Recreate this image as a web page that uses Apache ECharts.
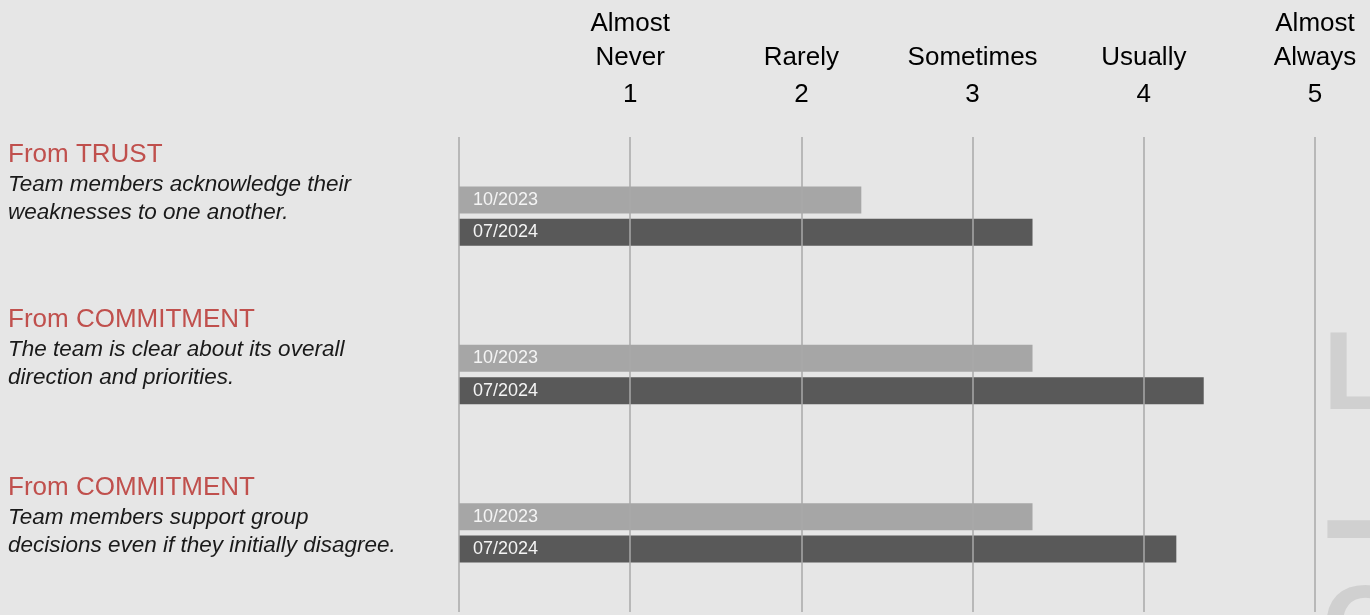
<!DOCTYPE html>
<html>
<head>
<meta charset="utf-8">
<script src="https://cdn.jsdelivr.net/npm/echarts@6/dist/echarts.min.js"></script>
<style>
html,body{margin:0;padding:0;background:#e6e6e6;}
#chart{width:1370px;height:615px;}
</style>
</head>
<body>
<div id="chart"></div>
<script>
const categoryTitles = ['From TRUST', 'From COMMITMENT', 'From COMMITMENT'];
const categoryDescriptions = [
  'Team members acknowledge their\nweaknesses to one another.',
  'The team is clear about its overall\ndirection and priorities.',
  'Team members support group\ndecisions even if they initially disagree.'
];
const seriesNames = ['10/2023', '07/2024'];
const values2023 = [2.35, 3.35, 3.35];
const values2024 = [3.35, 4.35, 4.19];
const scaleNames = ['', 'Almost\nNever', 'Rarely', 'Sometimes', 'Usually', 'Almost\nAlways'];
const scaleNumbers = ['', '1', '2', '3', '4', '5'];
const labelShift = [66, 53, 35];

const FONT = '"Liberation Sans", Arial, sans-serif';
const chart = echarts.init(document.getElementById('chart'));

const yData = categoryTitles.map((t, i) => ({
  value: t + '|' + i,
  textStyle: { align: 'left', verticalAlign: 'middle', padding: [0, 0, labelShift[i], 0] }
}));

chart.setOption({
  backgroundColor: '#e6e6e6',
  animation: false,
  grid: { left: 459, right: 55, top: 137, bottom: 3, containLabel: false, outerBoundsMode: 'none' },
  xAxis: {
    type: 'value', position: 'top', min: 0, max: 5, interval: 1, z: 5,
    axisLine: { show: false }, axisTick: { show: false },
    splitLine: { show: true, lineStyle: { color: '#a9a9a9', width: 1.5 } },
    axisLabel: {
      margin: 22,
      fontFamily: FONT,
      formatter: function (v) {
        const i = Math.round(v);
        if (!scaleNumbers[i]) return '';
        const lines = scaleNames[i].split('\n').map(s => '{n|' + s + '}');
        return lines.join('\n') + '\n{v|' + scaleNumbers[i] + '}';
      },
      rich: {
        n: { fontSize: 26, lineHeight: 34, color: '#000', fontFamily: FONT },
        v: { fontSize: 26, lineHeight: 40, color: '#000', fontFamily: FONT }
      }
    }
  },
  yAxis: {
    type: 'category', inverse: true, data: yData,
    axisLine: { show: false }, axisTick: { show: false }, splitLine: { show: false },
    axisLabel: {
      align: 'left', margin: 451, fontFamily: FONT,
      formatter: function (val) {
        const i = +val.split('|')[1];
        const d = categoryDescriptions[i].split('\n').map(s => '{d|' + s + '}').join('\n');
        return '{t|' + categoryTitles[i] + '}\n' + d;
      },
      rich: {
        t: { fontSize: 26, lineHeight: 32, color: '#c0504d', fontFamily: FONT },
        d: { fontSize: 22.5, lineHeight: 28, color: '#1a1a1a', fontStyle: 'italic', fontFamily: FONT }
      }
    }
  },
  graphic: [
    { type: 'text', left: 1323, top: 322, silent: true, z: -10,
      style: { text: 'L', fill: '#d0d0d0', font: 'bold 112px "Liberation Sans", Arial, sans-serif' } },
    { type: 'text', left: 1322, top: 437, silent: true, z: -10,
      style: { text: '–', fill: '#d0d0d0', font: 'bold 180px "Liberation Sans", Arial, sans-serif' } },
    { type: 'text', left: 1322, top: 576, silent: true, z: -10,
      style: { text: 'O', fill: '#d0d0d0', font: 'bold 112px "Liberation Sans", Arial, sans-serif' } }
  ],
  series: [
    {
      name: seriesNames[0], type: 'bar', data: values2023, barWidth: 27, barGap: '20%',
      itemStyle: { color: '#a6a6a6' },
      label: { show: true, position: 'insideLeft', distance: 14, formatter: '{a}',
        color: '#f4f4f4', fontSize: 18, fontFamily: FONT }
    },
    {
      name: seriesNames[1], type: 'bar', data: values2024, barWidth: 27, barGap: '20%',
      itemStyle: { color: '#595959' },
      label: { show: true, position: 'insideLeft', distance: 14, formatter: '{a}',
        color: '#f4f4f4', fontSize: 18, fontFamily: FONT }
    }
  ]
});
</script>
</body>
</html>
